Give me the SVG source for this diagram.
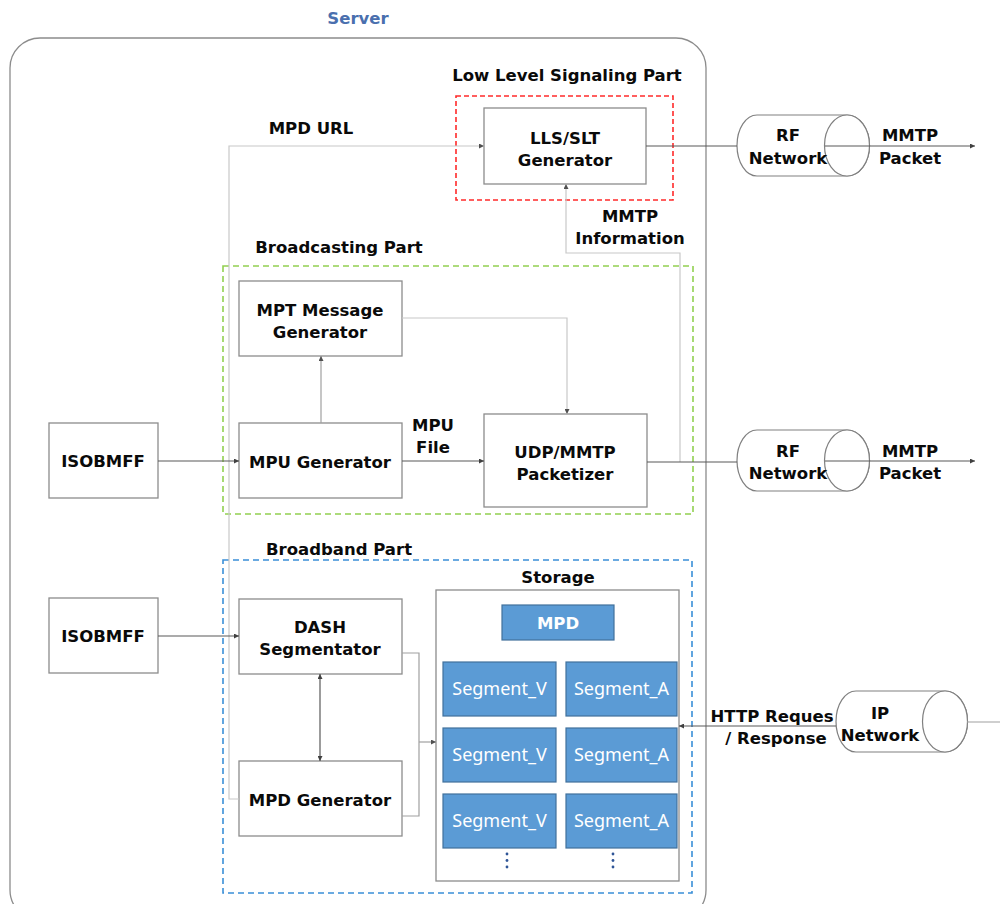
<svg xmlns="http://www.w3.org/2000/svg" width="1000" height="904" viewBox="0 0 1000 904">
  <defs>
    <style>
      .box { fill: #ffffff; stroke: #8c8c8c; stroke-width: 1.3; }
      .lbl { font-family: "DejaVu Sans", Verdana, sans-serif; font-weight: bold; font-size: 16.5px; fill: #0a0a0a; text-anchor: middle; }
      .seg { fill: #5b9bd5; stroke: #41719c; stroke-width: 1.2; }
      .segtxt { font-family: "Noto Sans", "DejaVu Sans", sans-serif; font-size: 18px; fill: #ffffff; text-anchor: middle; }
      .dark { fill: none; stroke: #595959; stroke-width: 1.2; }
      .light { fill: none; stroke: #c8c8c8; stroke-width: 1.2; }
      .mid { fill: none; stroke: #a0a0a0; stroke-width: 1.2; }
      .cyl { fill: #ffffff; stroke: #808080; stroke-width: 1.2; }
    </style>
    <marker id="arrD" viewBox="0 0 6 6" refX="6" refY="3" markerWidth="5" markerHeight="5" orient="auto-start-reverse" markerUnits="userSpaceOnUse">
      <path d="M0,0 L6,3 L0,6 Z" fill="#404040"/>
    </marker>
    <marker id="arrL" viewBox="0 0 6 6" refX="6" refY="3" markerWidth="5" markerHeight="5" orient="auto-start-reverse" markerUnits="userSpaceOnUse">
      <path d="M0,0 L6,3 L0,6 Z" fill="#505050"/>
    </marker>
  </defs>

  <rect width="1000" height="904" fill="#ffffff"/>

  <!-- Server boundary -->
  <g id="server">
    <text x="358" y="24" class="lbl" style="fill:#4a6fae">Server</text>
    <rect x="10" y="38" width="696" height="882" rx="30" ry="30" fill="none" stroke="#8c8c8c" stroke-width="1.3"/>
  </g>

  <!-- Part frames -->
  <g id="lls-part">
    <text x="567" y="81" class="lbl">Low Level Signaling Part</text>
    <rect x="456" y="96" width="217" height="104" fill="none" stroke="#ff2a2a" stroke-width="1.6" stroke-dasharray="5,3"/>
  </g>
  <g id="broadcasting-part">
    <text x="339" y="253" class="lbl">Broadcasting Part</text>
    <rect x="223" y="266" width="470" height="248" fill="none" stroke="#92d050" stroke-width="1.6" stroke-dasharray="6,4"/>
  </g>
  <g id="broadband-part">
    <text x="339" y="555" class="lbl">Broadband Part</text>
    <rect x="223" y="560" width="469" height="333" fill="none" stroke="#3a8fd8" stroke-width="1.6" stroke-dasharray="6,4"/>
  </g>

  <!-- Nodes -->
  <g id="lls-slt-generator">
    <rect x="484" y="108" width="162" height="76" class="box"/>
    <text x="565" y="144" class="lbl">LLS/SLT</text>
    <text x="565" y="166" class="lbl">Generator</text>
  </g>
  <g id="mpt-message-generator">
    <rect x="239" y="281" width="163" height="75" class="box"/>
    <text x="320" y="316" class="lbl">MPT Message</text>
    <text x="320" y="338" class="lbl">Generator</text>
  </g>
  <g id="mpu-generator">
    <rect x="239" y="423" width="163" height="75" class="box"/>
    <text x="320" y="468" class="lbl">MPU Generator</text>
  </g>
  <g id="udp-mmtp-packetizer">
    <rect x="484" y="414" width="163" height="93" class="box"/>
    <text x="565" y="458" class="lbl">UDP/MMTP</text>
    <text x="565" y="480" class="lbl">Packetizer</text>
  </g>
  <g id="isobmff-1">
    <rect x="49" y="423" width="109" height="75" class="box"/>
    <text x="103" y="467" class="lbl">ISOBMFF</text>
  </g>
  <g id="isobmff-2">
    <rect x="49" y="598" width="109" height="75" class="box"/>
    <text x="103" y="642" class="lbl">ISOBMFF</text>
  </g>
  <g id="dash-segmentator">
    <rect x="239" y="599" width="163" height="75" class="box"/>
    <text x="320" y="633" class="lbl">DASH</text>
    <text x="320" y="655" class="lbl">Segmentator</text>
  </g>
  <g id="mpd-generator">
    <rect x="239" y="761" width="163" height="75" class="box"/>
    <text x="320" y="806" class="lbl">MPD Generator</text>
  </g>

  <g id="storage">
    <text x="558" y="583" class="lbl">Storage</text>
    <rect x="436" y="590" width="243" height="291" class="box"/>
    <rect x="502" y="605" width="112" height="35" class="seg"/>
    <text x="558" y="629" class="lbl" style="fill:#ffffff">MPD</text>
    <rect x="443" y="662" width="113" height="54" class="seg"/>
    <text x="499.5" y="695" class="segtxt">Segment_V</text>
    <rect x="566" y="662" width="111" height="54" class="seg"/>
    <text x="621.5" y="695" class="segtxt">Segment_A</text>
    <rect x="443" y="728" width="113" height="54" class="seg"/>
    <text x="499.5" y="761" class="segtxt">Segment_V</text>
    <rect x="566" y="728" width="111" height="54" class="seg"/>
    <text x="621.5" y="761" class="segtxt">Segment_A</text>
    <rect x="443" y="794" width="113" height="54" class="seg"/>
    <text x="499.5" y="827" class="segtxt">Segment_V</text>
    <rect x="566" y="794" width="111" height="54" class="seg"/>
    <text x="621.5" y="827" class="segtxt">Segment_A</text>
    <g fill="#2f5597">
      <circle cx="507" cy="854" r="1.4"/>
      <circle cx="507" cy="860.5" r="1.4"/>
      <circle cx="507" cy="867" r="1.4"/>
      <circle cx="613" cy="854" r="1.4"/>
      <circle cx="613" cy="860.5" r="1.4"/>
      <circle cx="613" cy="867" r="1.4"/>
    </g>
  </g>

  <!-- Network clouds drawn as cylinders -->
  <g id="rf-network-1">
    <path d="M757,115 H847 A22.5,30.5 0 0 1 847,176 H757 A20,30.5 0 0 1 757,115 Z" class="cyl"/>
    <ellipse cx="847" cy="145.5" rx="22.5" ry="30.5" class="cyl"/>
  </g>
  <g id="rf-network-2">
    <path d="M757,430 H847 A22.5,30.5 0 0 1 847,491 H757 A20,30.5 0 0 1 757,430 Z" class="cyl"/>
    <ellipse cx="847" cy="460.5" rx="22.5" ry="30.5" class="cyl"/>
  </g>
  <g id="ip-network">
    <path d="M856,691 H945 A22.5,30.5 0 0 1 945,752 H856 A20,30.5 0 0 1 856,691 Z" class="cyl"/>
    <ellipse cx="945" cy="721.5" rx="22.5" ry="30.5" class="cyl"/>
  </g>

  <!-- Connectors -->
  <g id="connectors">
    <!-- MPD URL feed to the LLS/SLT generator -->
    <path d="M239,799 H229 V146 H484" class="light" marker-end="url(#arrL)"/>
    <!-- MMTP information tapped from the packetizer output -->
    <path d="M680,462 V253 H566 V184" class="light" marker-end="url(#arrL)"/>
    <!-- MPT messages into the packetizer -->
    <path d="M402,318 H567 V414" class="light" marker-end="url(#arrL)"/>
    <path d="M321,423 V356" class="mid" marker-end="url(#arrL)"/>

    <path d="M158,461 H239" class="dark" marker-end="url(#arrD)"/>
    <path d="M402,461 H484" class="dark" marker-end="url(#arrD)"/>

    <!-- RF outputs -->
    <path d="M646,146 H737" class="dark"/>
    <path d="M825,146 H975" class="dark" marker-end="url(#arrD)"/>
    <path d="M647,462 H737" class="dark"/>
    <path d="M825,461 H975" class="dark" marker-end="url(#arrD)"/>

    <!-- Broadband chain -->
    <path d="M158,636 H239" class="dark" marker-end="url(#arrD)"/>
    <path d="M320,674 V761" class="dark" marker-start="url(#arrD)" marker-end="url(#arrD)"/>
    <path d="M402,653 H419 V816 H402" class="mid"/>
    <path d="M419,742 H436" class="mid" marker-end="url(#arrL)"/>

    <!-- HTTP request / response -->
    <path d="M836,726 H679" class="dark" marker-end="url(#arrD)"/>
    <path d="M967,722 H1000" class="mid"/>
  </g>

  <!-- Connector and network labels -->
  <g id="labels">
    <text x="311" y="134" class="lbl">MPD URL</text>
    <text x="630" y="222" class="lbl">MMTP</text>
    <text x="630" y="244" class="lbl">Information</text>
    <text x="433" y="431" class="lbl">MPU</text>
    <text x="433" y="453" class="lbl">File</text>
    <text x="788" y="141" class="lbl">RF</text>
    <text x="788" y="164" class="lbl">Network</text>
    <text x="910" y="141" class="lbl">MMTP</text>
    <text x="910" y="164" class="lbl">Packet</text>
    <text x="788" y="457" class="lbl">RF</text>
    <text x="788" y="479" class="lbl">Network</text>
    <text x="910" y="457" class="lbl">MMTP</text>
    <text x="910" y="479" class="lbl">Packet</text>
    <text x="772" y="722" class="lbl">HTTP Reques</text>
    <text x="776" y="744" class="lbl">/ Response</text>
    <text x="880" y="719" class="lbl">IP</text>
    <text x="880" y="741" class="lbl">Network</text>
  </g>
</svg>
